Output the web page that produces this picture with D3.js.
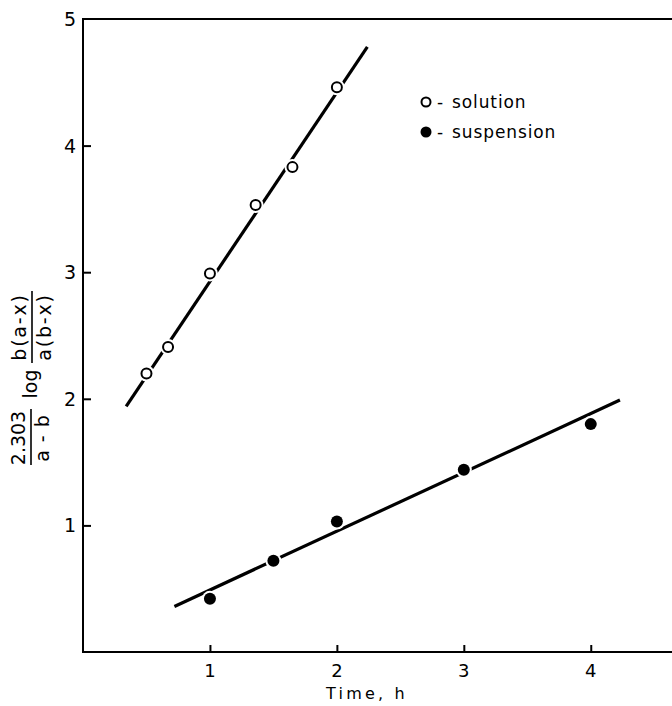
<!DOCTYPE html>
<html><head><meta charset="utf-8">
<script src="https://cdn.jsdelivr.net/npm/d3@7"></script>
<style>body{margin:0;background:#fff}svg{display:block}text{font-family:"DejaVu Sans",sans-serif;fill:#000}</style>
</head><body>
<script>
// Data
const solutionTime = [0.5, 0.67, 1.0, 1.36, 1.65, 2.0];
const solutionValue = [2.20, 2.41, 2.99, 3.53, 3.83, 4.46];
const solutionFit = [[0.34, 1.94], [2.24, 4.78]];
const suspensionTime = [1.0, 1.5, 2.0, 3.0, 4.0];
const suspensionValue = [0.42, 0.72, 1.03, 1.44, 1.80];
const suspensionFit = [[0.72, 0.36], [4.23, 1.99]];
const xTicks = [1, 2, 3, 4];
const yTicks = [1, 2, 3, 4, 5];

const W = 672, H = 706;
const svg = d3.select("body").append("svg").attr("width", W).attr("height", H);
const x = d3.scaleLinear().domain([0, 4.64]).range([83, 672]);
const y = d3.scaleLinear().domain([0, 5]).range([652, 19]);

// frame: left, top, bottom
const frame = svg.append("g").attr("stroke", "#000").attr("stroke-width", 2).attr("fill", "none");
frame.append("path").attr("d", `M${x.range()[1]},${y(5)}H${x(0)}V${y(0)}H${x.range()[1]}`);

// y axis (ticks inward)
const yAxis = svg.append("g").attr("transform", `translate(${x(0)},0)`)
  .call(d3.axisRight(y).tickValues(yTicks).tickSize(8).tickFormat(""));
yAxis.select(".domain").remove();
yAxis.selectAll("line").attr("stroke-width", 2);
yAxis.selectAll(".tick").filter(d => d === 5).select("line").remove();
svg.append("g").selectAll("text").data(yTicks).join("text")
  .attr("x", 76).attr("y", d => y(d) + 7).attr("text-anchor", "end")
  .attr("font-size", 19).text(d => d);

// x axis (ticks inward)
const xAxis = svg.append("g").attr("transform", `translate(0,${y(0)})`)
  .call(d3.axisTop(x).tickValues(xTicks).tickSize(7).tickFormat(""));
xAxis.select(".domain").remove();
xAxis.selectAll("line").attr("stroke-width", 2);
svg.append("g").selectAll("text").data(xTicks).join("text")
  .attr("x", d => x(d)).attr("y", 677).attr("text-anchor", "middle")
  .attr("font-size", 18).text(d => d);

svg.append("text").attr("x", 367).attr("y", 699).attr("text-anchor", "middle")
  .attr("font-size", 16).attr("letter-spacing", 3.2).text("Time, h");

// fit lines
const line = d3.line().x(d => x(d[0])).y(d => y(d[1]));
svg.append("path").datum(solutionFit).attr("d", line).attr("stroke", "#000").attr("stroke-width", 3.2).attr("fill", "none");
svg.append("path").datum(suspensionFit).attr("d", line).attr("stroke", "#000").attr("stroke-width", 3.2).attr("fill", "none");

const sol = solutionTime.map((t, i) => [t, solutionValue[i]]);
const sus = suspensionTime.map((t, i) => [t, suspensionValue[i]]);

// halos
svg.append("g").selectAll("circle").data(sol.concat(sus)).join("circle")
  .attr("cx", d => x(d[0])).attr("cy", d => y(d[1])).attr("r", 8).attr("fill", "#fff");
svg.append("g").selectAll("circle").data(sol).join("circle")
  .attr("cx", d => x(d[0])).attr("cy", d => y(d[1])).attr("r", 5)
  .attr("fill", "#fff").attr("stroke", "#000").attr("stroke-width", 2);
svg.append("g").selectAll("circle").data(sus).join("circle")
  .attr("cx", d => x(d[0])).attr("cy", d => y(d[1])).attr("r", 6).attr("fill", "#000");

// legend
const lg = svg.append("g").attr("font-size", 17);
lg.append("circle").attr("cx", 426).attr("cy", 102).attr("r", 4.5).attr("fill", "#fff").attr("stroke", "#000").attr("stroke-width", 2);
lg.append("text").attr("x", 437).attr("y", 108).text("-");
lg.append("text").attr("x", 452).attr("y", 108).attr("letter-spacing", 0.9).text("solution");
lg.append("circle").attr("cx", 426).attr("cy", 132).attr("r", 5.5).attr("fill", "#000");
lg.append("text").attr("x", 437).attr("y", 138).text("-");
lg.append("text").attr("x", 452).attr("y", 138).attr("letter-spacing", 0.9).text("suspension");

// y label (rotated fractions)
const yl = svg.append("g").attr("transform", "translate(31,465) rotate(-90)").attr("font-size", 19);
yl.append("text").attr("x", 27).attr("y", -6).attr("text-anchor", "middle").text("2.303");
yl.append("line").attr("x1", 0).attr("x2", 56).attr("y1", 0).attr("y2", 0).attr("stroke", "#000").attr("stroke-width", 1.6);
yl.append("text").attr("x", 27).attr("y", 18).attr("text-anchor", "middle").attr("letter-spacing", 1).text("a - b");
yl.append("text").attr("x", 81).attr("y", 6).attr("text-anchor", "middle").text("log");
yl.append("text").attr("x", 138).attr("y", -5).attr("text-anchor", "middle").attr("letter-spacing", 1.8).text("b(a-x)");
yl.append("line").attr("x1", 102).attr("x2", 174).attr("y1", 1).attr("y2", 1).attr("stroke", "#000").attr("stroke-width", 1.6);
yl.append("text").attr("x", 138).attr("y", 20).attr("text-anchor", "middle").attr("letter-spacing", 1.8).text("a(b-x)");
</script>
</body></html>
